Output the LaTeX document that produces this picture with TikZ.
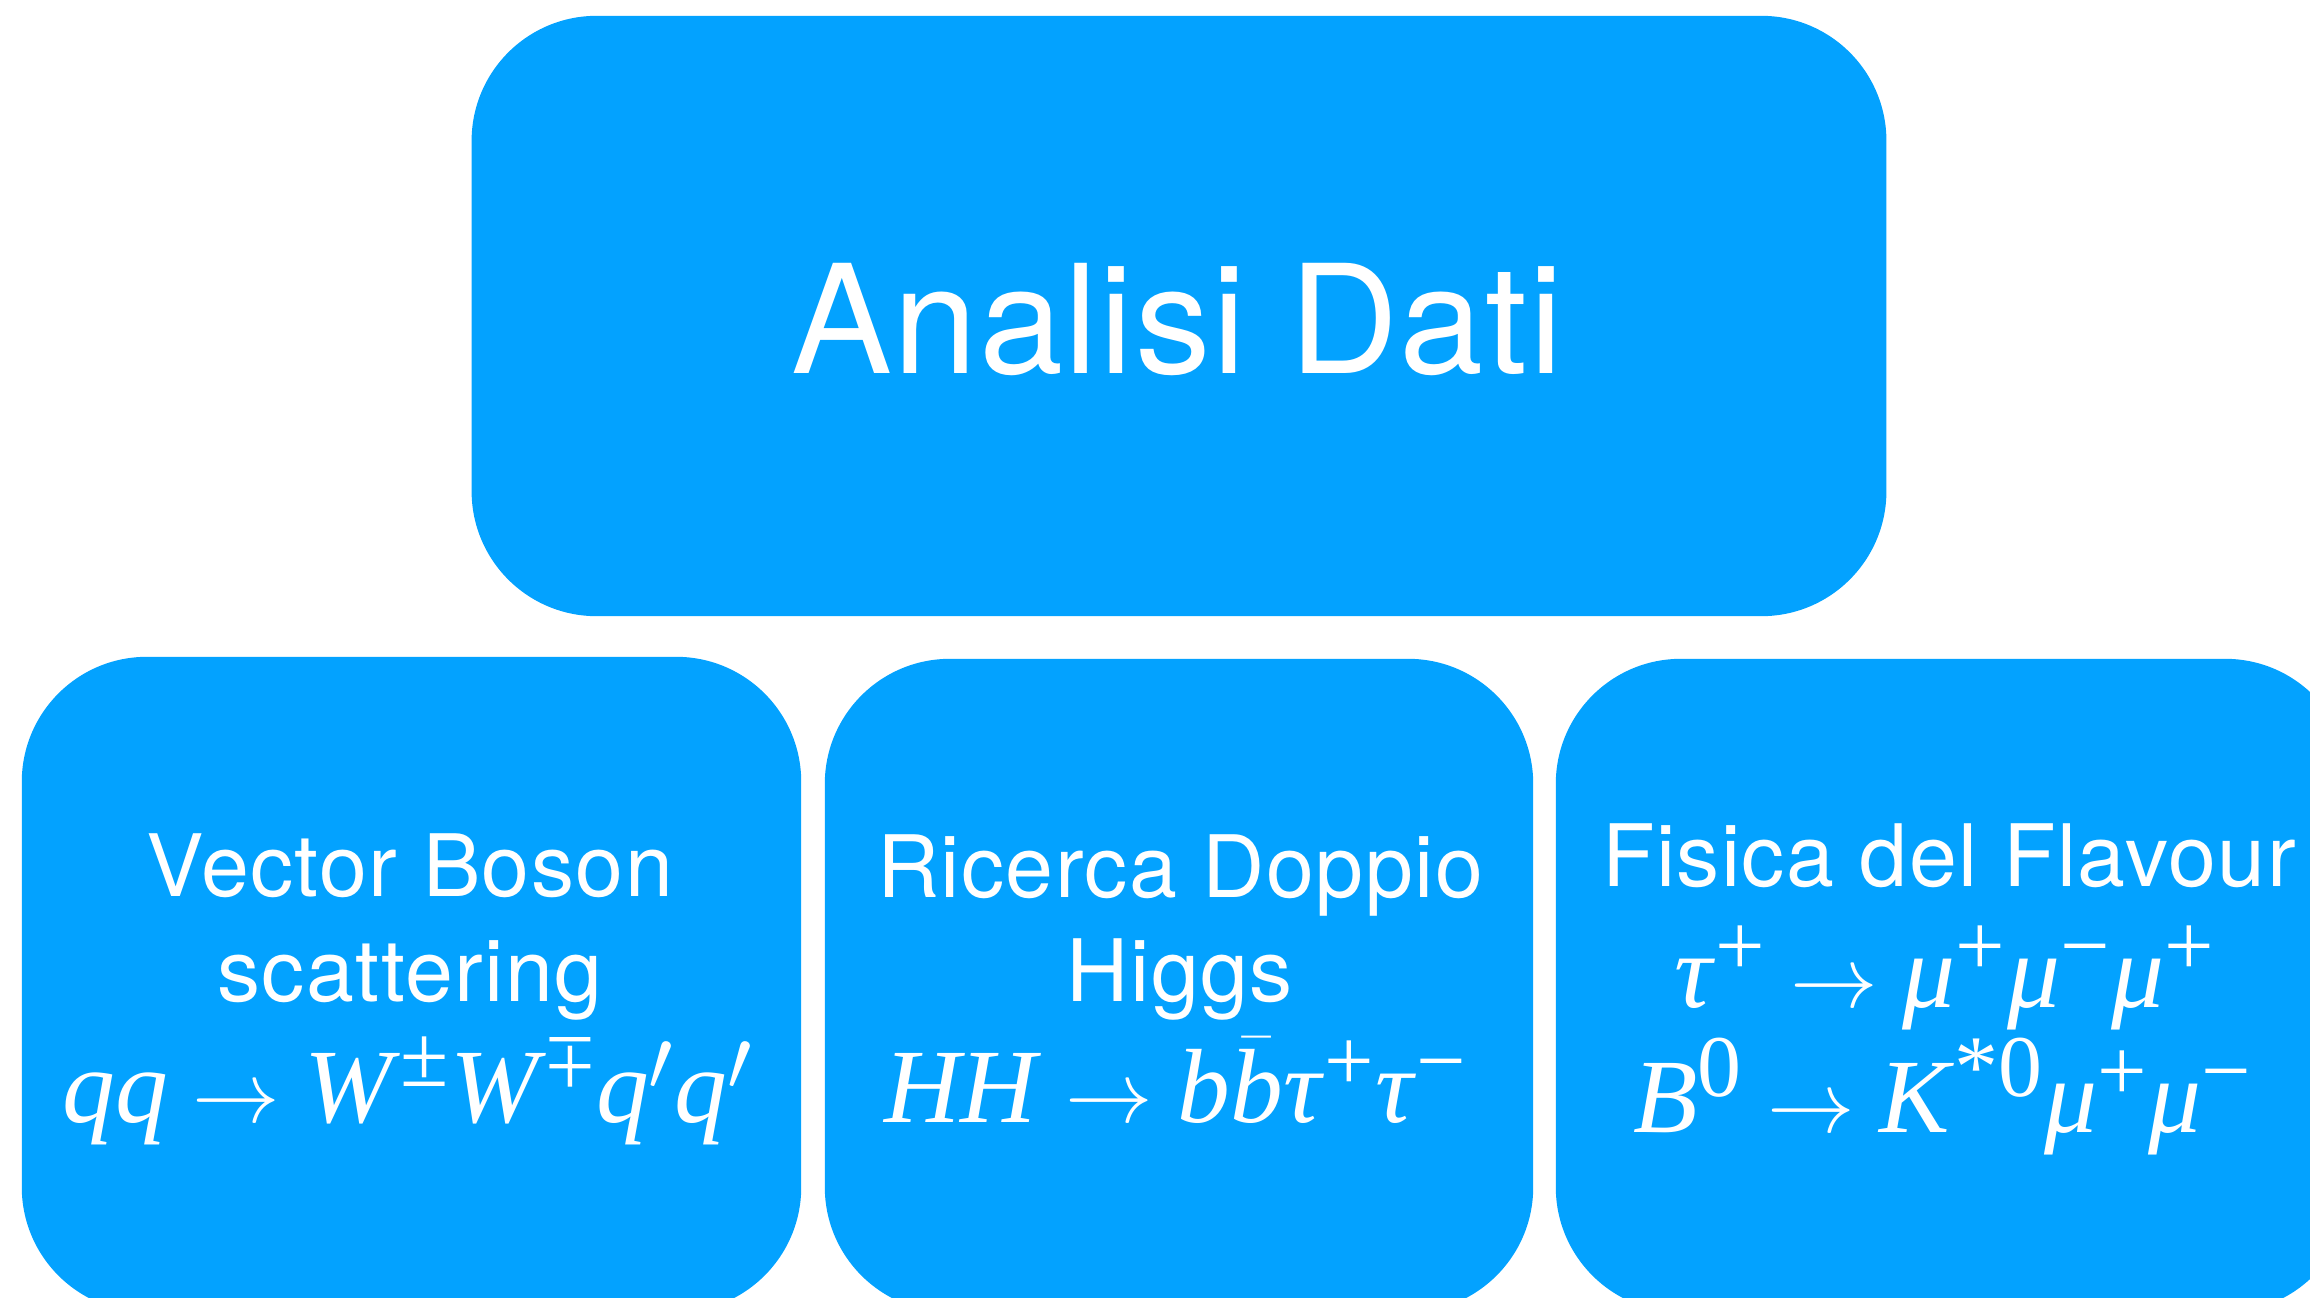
\documentclass[tikz,border=0pt]{standalone}
\usepackage{amsmath}
\usepackage{fontspec}
\setmainfont{TeX Gyre Heros}
\newfontfamily\lserif{Liberation Serif}
\newcommand{\mi}[1]{\text{\lserif\itshape #1\/}}
\newcommand{\mr}[1]{\text{\lserif #1}}
\newcommand{\pl}{\mr{+}}
\newcommand{\mn}{\mr{−}}
\newcommand{\pmx}{\mr{±}}
\newcommand{\mpx}{\text{\rotatebox[origin=c]{180}{\lserif ±}}}
\DeclareMathSizes{30}{30}{25}{19}
\definecolor{boxblue}{HTML}{03A2FF}
\begin{document}
\begin{tikzpicture}[x=0.01cm,y=-0.01cm,
  panel/.style={fill=boxblue, rounded corners=1.25cm, inner sep=0pt, outer sep=0pt},
  title/.style={text=white, font=\fontsize{43}{50}\selectfont\addfontfeatures{LetterSpace=1}, anchor=base, inner sep=0pt},
  head/.style={text=white, font=\fontsize{24.5}{30}\selectfont\addfontfeatures{LetterSpace=1.7}, anchor=base, inner sep=0pt},
  eq/.style={text=white, font=\fontsize{30}{36}\selectfont, anchor=base, inner sep=0pt}]
\useasboundingbox (0,0) rectangle (2310,1297);
\clip (0,0) rectangle (2310,1297);
\node[panel, minimum width=14.14cm, minimum height=6cm] (main) at (1179,316) {};
\node[panel, minimum width=7.79cm, minimum height=6.55cm] (b1) at (411.5,984.5) {};
\node[panel, minimum width=7.08cm, minimum height=6.53cm] (b2) at (1179,985.5) {};
\node[panel, minimum width=7.94cm, minimum height=6.53cm] (b3) at (1953,985.5) {};
\node[title] (tt) at (1177,373) {Analisi Dati};
\node[head] (h1a) at (410,896) {Vector Boson};
\node[head] (h1b) at (410,1001) {scattering};
\node[eq] (e1) at (408,1122) {$\mi{qq} \rightarrow \mi{W}^{\pmx}\mi{W}^{\mpx}\mi{q}'\mi{q}'$};
\node[head] (h2a) at (1180,897) {Ricerca Doppio};
\node[head] (h2b) at (1180,1001) {Higgs};
\node[eq] (e2) at (1176,1122) {$\mi{HH} \rightarrow \mi{b}\bar{\mi{b}}\mi{τ}^{\pl}\mi{τ}^{\mn}$};
\node[head] (h3) at (1949,886) {Fisica del Flavour};
\node[eq] (e3a) at (1945,1007) {$\mi{τ}^{\pl}\rightarrow\mi{μ}^{\pl}\mi{μ}^{\mn}\mi{μ}^{\pl}$};
\node[eq] (e3b) at (1943,1132) {$\mi{B}^{\mr{0}}\rightarrow\mi{K}^{\mr{*0}}\mi{μ}^{\pl}\mi{μ}^{\mn}$};
\end{tikzpicture}
\end{document}
